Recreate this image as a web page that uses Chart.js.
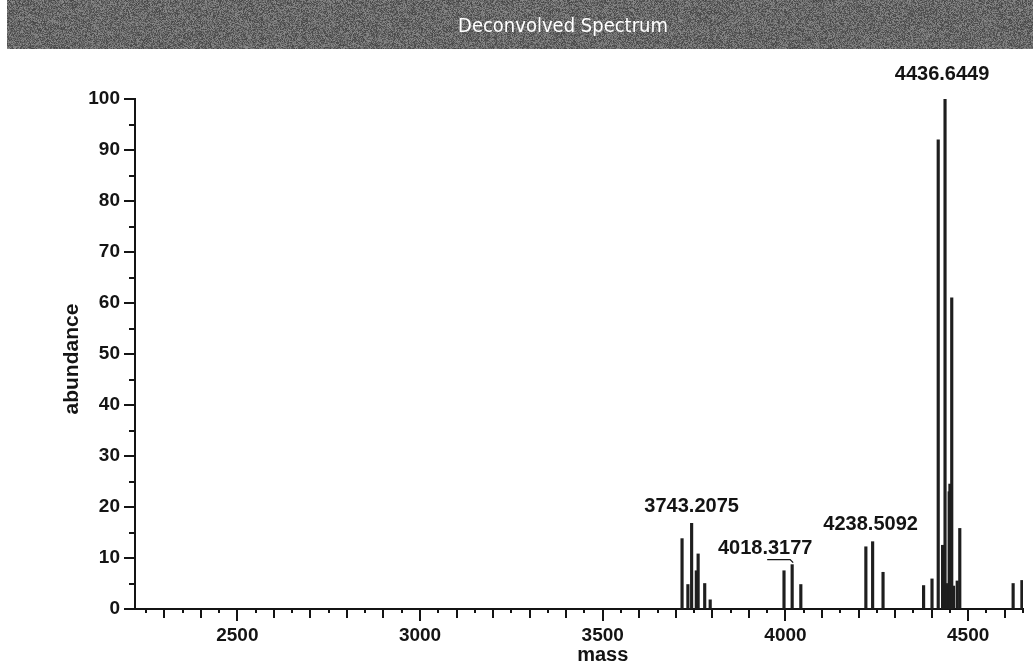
<!DOCTYPE html>
<html>
<head>
<meta charset="utf-8">
<script src="https://cdn.jsdelivr.net/npm/chart.js@4.4.1/dist/chart.umd.min.js"></script>
<style>
    html, body { margin: 0; padding: 0; background: #fff; }
    #wrap { width: 1033px; height: 670px; }
</style>
</head>
<body>
<div id="wrap"><canvas id="spectrum" width="1033" height="670"></canvas></div>
<script>
// peak list (mass, abundance %)
const masses = [
    3717, 3733, 3743.2075, 3756, 3761, 3779, 3794,
    3996, 4018.3177, 4042,
    4220, 4238.5092, 4267,
    4378, 4401, 4418, 4430, 4433, 4436.6449, 4440, 4443, 4448, 4450, 4452, 4455, 4460, 4470, 4477,
    4623, 4647
];
const abundances = [
    13.8, 4.8, 16.8, 7.5, 10.8, 5, 1.8,
    7.5, 8.7, 4.8,
    12.2, 13.2, 7.2,
    4.6, 5.9, 92, 12.5, 11.5, 100, 4.5, 5, 23, 24.5, 4.5, 61, 4.5, 5.5, 15.8,
    5, 5.6
];

const peakLabels = ['3743.2075', '4018.3177', '4238.5092', '4436.6449'];
const labelMasses = [3743.2075, 4018.3177, 4238.5092, 4436.6449];
const labelHeights = [16.8, 8.7, 13.2, 100];

const xTickLabels = [2500, 3000, 3500, 4000, 4500];
const yTickLabels = [0, 10, 20, 30, 40, 50, 60, 70, 80, 90, 100];

const FONT = '"Liberation Sans", Arial, sans-serif';
const INK = '#141414';

// grainy grey header like the scanned banner
function drawBanner(ctx, x0, w, h) {
    const img = ctx.createImageData(w, h);
    for (let j = 0; j < h; j++) {
        for (let i = 0; i < w; i++) {
            let hsh = (Math.imul(i + 1, 73856093) ^ Math.imul(j + 7, 19349663)) >>> 0;
            hsh = Math.imul(hsh ^ (hsh >>> 13), 1274126177) >>> 0;
            const g = 68 + (hsh % 72);
            const k = (j * w + i) * 4;
            img.data[k] = g; img.data[k + 1] = g; img.data[k + 2] = g; img.data[k + 3] = 255;
        }
    }
    ctx.putImageData(img, x0, 0);
}

const decor = {
    id: 'decor',
    beforeDraw(chart) {
        const ctx = chart.ctx;
        ctx.save();
        ctx.fillStyle = '#fff';
        ctx.fillRect(0, 0, chart.width, chart.height);
        drawBanner(ctx, 7, chart.width - 7, 49);
        ctx.fillStyle = '#fff';
        ctx.font = '20px "DejaVu Sans Condensed", "DejaVu Sans", sans-serif';
        ctx.textAlign = 'center';
        ctx.textBaseline = 'middle';
        ctx.fillText('Deconvolved Spectrum', 563, 27);
        ctx.restore();
    },
    afterDraw(chart) {
        const { ctx, scales: { x, y } } = chart;
        ctx.save();
        ctx.strokeStyle = INK;
        ctx.lineWidth = 2;

        // x ticks: long at 500, medium at 100, short at 50
        x.ticks.forEach(t => {
            const v = t.value;
            if (v % 50 !== 0) return;
            const len = v % 500 === 0 ? 12 : (v % 100 === 0 ? 9 : 4);
            const px = Math.round(x.getPixelForValue(v));
            ctx.beginPath();
            ctx.moveTo(px, y.bottom);
            ctx.lineTo(px, y.bottom + len);
            ctx.stroke();
        });

        // y ticks: long at 10, short at 5
        y.ticks.forEach(t => {
            const v = t.value;
            const len = v % 10 === 0 ? 11 : 6;
            const py = Math.round(y.getPixelForValue(v));
            ctx.beginPath();
            ctx.moveTo(x.left, py);
            ctx.lineTo(x.left - len, py);
            ctx.stroke();
        });

        // axis titles
        ctx.fillStyle = INK;
        ctx.textAlign = 'center';
        ctx.textBaseline = 'middle';
        ctx.font = 'bold 20px ' + FONT;
        ctx.fillText('mass', x.getPixelForValue(3500), 655);
        ctx.save();
        ctx.translate(72, y.getPixelForValue(49));
        ctx.rotate(-Math.PI / 2);
        ctx.font = 'bold 21px ' + FONT;
        ctx.fillText('abundance', 0, 0);
        ctx.restore();

        // peak annotations
        ctx.font = 'bold 20px ' + FONT;
        const shifts = [0, -27, -2, -3];
        const lifts = [17, 16, 17, 25];
        peakLabels.forEach((txt, i) => {
            const px = x.getPixelForValue(labelMasses[i]);
            const py = y.getPixelForValue(labelHeights[i]);
            ctx.fillText(txt, px + shifts[i], py - lifts[i]);
        });

        // little bracket under 4018.3177
        const bx = x.getPixelForValue(labelMasses[1]);
        const by = y.getPixelForValue(labelHeights[1]) - 5;
        ctx.lineWidth = 1.3;
        ctx.beginPath();
        ctx.moveTo(bx - 25, by);
        ctx.lineTo(bx - 2, by);
        ctx.lineTo(bx + 1, by + 3);
        ctx.stroke();
        ctx.restore();
    }
};

const ctx = document.getElementById('spectrum').getContext('2d');
const spectrumChart = new Chart(ctx, {
    type: 'bar',
    data: {
        datasets: [{
            data: masses.map((m, i) => ({ x: m, y: abundances[i] })),
            backgroundColor: '#1e1e1e',
            borderWidth: 0,
            barThickness: 2.5,
            grouped: false
        }]
    },
    options: {
        responsive: false,
        animation: false,
        layout: { padding: { top: 99, right: 10, left: 0, bottom: 0 } },
        plugins: {
            legend: { display: false },
            tooltip: { enabled: false },
            title: { display: false }
        },
        scales: {
            x: {
                type: 'linear',
                min: 2220,
                max: 4650,
                offset: false,
                grid: { display: true, drawOnChartArea: false, drawTicks: true, tickLength: 12, tickColor: 'rgba(0,0,0,0)' },
                border: { display: true, color: INK, width: 2 },
                ticks: {
                    stepSize: 50,
                    autoSkip: false,
                    includeBounds: false,
                    maxRotation: 0,
                    padding: 3,
                    color: INK,
                    font: { family: FONT, size: 19, weight: 'bold' },
                    callback: v => xTickLabels.includes(v) ? String(v) : ''
                },
                afterFit: s => { s.height = 61; }
            },
            y: {
                min: 0,
                max: 100,
                grid: { display: true, drawOnChartArea: false, drawTicks: true, tickLength: 12, tickColor: 'rgba(0,0,0,0)' },
                border: { display: true, color: INK, width: 2 },
                ticks: {
                    stepSize: 5,
                    autoSkip: false,
                    padding: 3,
                    color: INK,
                    font: { family: FONT, size: 19, weight: 'bold' },
                    callback: v => yTickLabels.includes(v) ? String(v) : ''
                },
                afterFit: s => { s.width = 135; }
            }
        }
    },
    plugins: [decor]
});
</script>
</body>
</html>
